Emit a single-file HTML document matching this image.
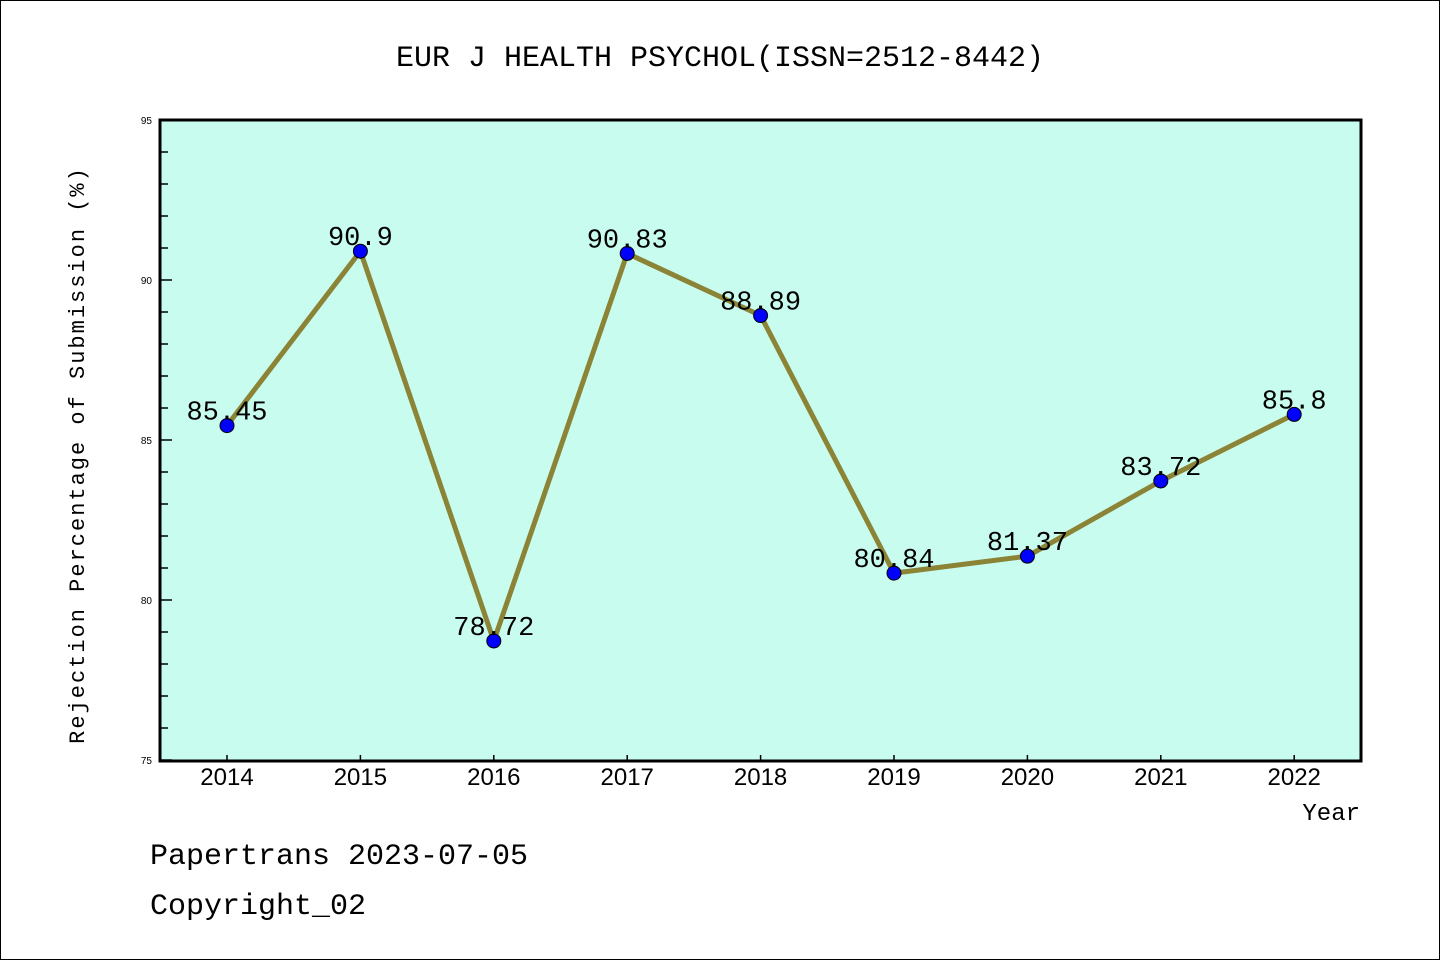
<!DOCTYPE html>
<html><head><meta charset="utf-8"><style>body{margin:0;background:#fff}svg{display:block}</style></head>
<body>
<svg width="1440" height="960" xmlns="http://www.w3.org/2000/svg" font-family="'Liberation Mono','DejaVu Sans Mono',monospace">
<rect x="0.5" y="0.5" width="1439" height="959" fill="#fff" stroke="#000"/>
<text x="720" y="66" font-size="30" text-anchor="middle">EUR J HEALTH PSYCHOL(ISSN=2512-8442)</text>
<rect x="160" y="120" width="1201" height="641" fill="#c8fcee"/>
<g id="ticks"></g>
<polyline id="line" fill="none" stroke="#8b8336" stroke-width="5"/>
<g id="marks"></g>
<rect x="160" y="120" width="1201" height="641" fill="none" stroke="#000" stroke-width="3"/>
<text transform="translate(84,455) rotate(-90)" font-size="22" text-anchor="middle" letter-spacing="2">Rejection Percentage of Submission (%)</text>
<text x="1360" y="820" font-size="24" text-anchor="end">Year</text>
<text x="150" y="864" font-size="30">Papertrans 2023-07-05</text>
<text x="150" y="914" font-size="30">Copyright_02</text>
</svg>
<script>
const years=["2014","2015","2016","2017","2018","2019","2020","2021","2022"];
const values=[85.45,90.9,78.72,90.83,88.89,80.84,81.37,83.72,85.8];
const labels=["85.45","90.9","78.72","90.83","88.89","80.84","81.37","83.72","85.8"];
const yTicks=[75,80,85,90,95];
const NS="http://www.w3.org/2000/svg";
const yS=v=>760-(v-75)*32;
const xS=i=>227+i*133.4;
function mk(t,a,p){const e=document.createElementNS(NS,t);for(const k in a)e.setAttribute(k,a[k]);(p||document.getElementById('marks')).appendChild(e);return e;}
const tg=document.getElementById('ticks');
for(let v=75;v<=95;v++){const maj=v%5===0;const l=mk('line',{x1:160,x2:maj?172:168,y1:yS(v),y2:yS(v),stroke:'#000','stroke-width':1.5},tg);

}
yTicks.forEach(v=>{const t=mk('text',{x:152,y:yS(v)+4,'font-size':10,'text-anchor':'end','font-family':'Liberation Sans,sans-serif'},tg);t.textContent=v;

});
years.forEach((y,i)=>{const l=mk('line',{x1:xS(i),x2:xS(i),y1:761,y2:755,stroke:'#000','stroke-width':1.5},tg);


const t=mk('text',{x:xS(i),y:785,'font-size':24,'text-anchor':'middle','font-family':'Liberation Sans,sans-serif'},tg);t.textContent=y;

});
document.getElementById('line').setAttribute('points',values.map((v,i)=>xS(i)+','+yS(v)).join(' '));
values.forEach((v,i)=>{const c=mk('circle',{cx:xS(i),cy:yS(v),r:7,fill:'#0000ff',stroke:'#000','stroke-width':1});


const t=mk('text',{x:xS(i),y:yS(v)-6,'font-size':27,'text-anchor':'middle'});t.textContent=labels[i];

});
</script>
</body></html>
